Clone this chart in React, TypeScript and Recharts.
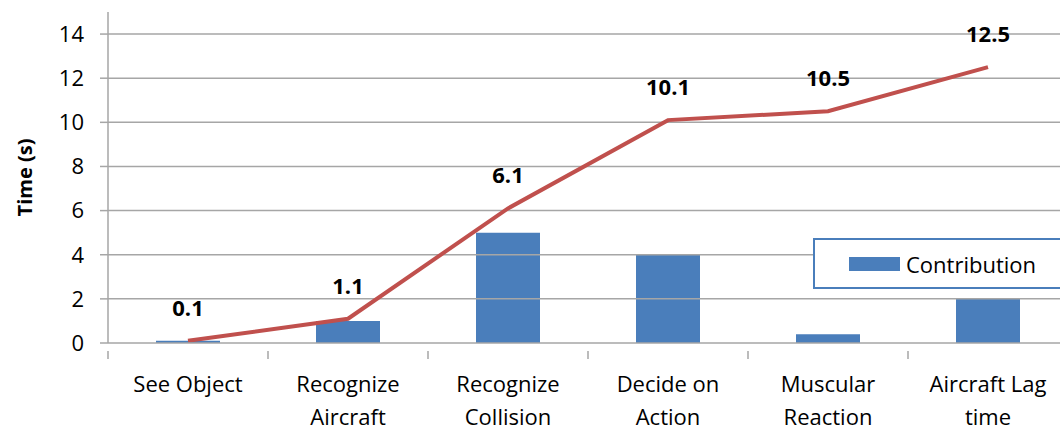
import React from 'react';
import {
  ComposedChart,
  Bar,
  Line,
  XAxis,
  YAxis,
  ReferenceLine,
  LabelList,
} from 'recharts';

const categories = [
  'See Object',
  'Recognize Aircraft',
  'Recognize Collision',
  'Decide on Action',
  'Muscular Reaction',
  'Aircraft Lag time',
];
const tickLines = [
  ['See Object'],
  ['Recognize', 'Aircraft'],
  ['Recognize', 'Collision'],
  ['Decide on', 'Action'],
  ['Muscular', 'Reaction'],
  ['Aircraft Lag', 'time'],
];
const contribution = [0.1, 1.0, 5.0, 4.0, 0.4, 2.0];
const cumulative = [0.1, 1.1, 6.1, 10.1, 10.5, 12.5];
const yTicks = [0, 2, 4, 6, 8, 10, 12, 14];

const data = categories.map((name, i) => ({
  name,
  contribution: contribution[i],
  cumulative: cumulative[i],
}));

const FONT = '"Open Sans", sans-serif';
const GRID = '#a6a6a6';
const BLUE = '#4a7ebb';
const RED = '#c0504d';

const XTick = (props: any) => {
  const { x, y, payload, index, visibleTicksCount } = props;
  const half = payload.offset || 0;
  const lines = tickLines[index] || [String(payload.value)];
  return (
    <g>
      <line x1={x - half} x2={x - half} y1={y} y2={y + 8} stroke={GRID} strokeWidth={1.5} />
      {index === visibleTicksCount - 1 && (
        <line x1={x + half} x2={x + half} y1={y} y2={y + 8} stroke={GRID} strokeWidth={1.5} />
      )}
      {lines.map((t: string, i: number) => (
        <text
          key={i}
          x={x}
          y={y + 41 + i * 33}
          textAnchor="middle"
          fontFamily={FONT}
          fontSize={22}
          fill="#000"
        >
          {t}
        </text>
      ))}
    </g>
  );
};

const PointLabel = (props: any) => {
  const { x, y, value } = props;
  return (
    <text
      x={x}
      y={y - 25}
      textAnchor="middle"
      fontFamily={FONT}
      fontWeight="bold"
      fontSize={22}
      fill="#000"
    >
      {value}
    </text>
  );
};

const YLabel = (props: any) => {
  const { viewBox } = props;
  const cy = viewBox.y + viewBox.height / 2;
  return (
    <text
      x={24}
      y={cy}
      transform={`rotate(-90, 24, ${cy})`}
      textAnchor="middle"
      dominantBaseline="central"
      fontFamily={FONT}
      fontWeight="bold"
      fontSize={20}
      fill="#000"
    >
      Time (s)
    </text>
  );
};

export default function App() {
  return (
    <div style={{ position: 'absolute', left: 0, top: 0, width: 1060, height: 429, overflow: 'hidden', background: '#fff' }}>
      <ComposedChart
        width={1068}
        height={429}
        data={data}
        margin={{ top: 12, right: 0, left: 8, bottom: 0 }}
      >
        <XAxis
          dataKey="name"
          height={86}
          axisLine={{ stroke: GRID, strokeWidth: 1.5 }}
          tickLine={false}
          tick={<XTick />}
          interval={0}
        />
        <YAxis
          domain={[0, 15]}
          ticks={yTicks}
          width={100}
          axisLine={{ stroke: GRID, strokeWidth: 1.5 }}
          tickLine={{ stroke: GRID, strokeWidth: 1.5 }}
          tickSize={8}
          tickMargin={16}
          tick={{ fontFamily: FONT, fontSize: 22, fill: '#000' }}
          label={<YLabel />}
        />
        {yTicks.slice(1).map((t) => (
          <ReferenceLine key={t} y={t} stroke={GRID} strokeWidth={1.5} />
        ))}
        <Bar dataKey="contribution" name="Contribution" fill={BLUE} barSize={64} isAnimationActive={false} />
        <Line
          dataKey="cumulative"
          stroke={RED}
          strokeWidth={4}
          dot={false}
          type="linear"
          isAnimationActive={false}
        >
          <LabelList dataKey="cumulative" content={<PointLabel />} />
        </Line>
      </ComposedChart>
      <div
        style={{
          position: 'absolute',
          left: 813,
          top: 238,
          width: 260,
          height: 51,
          border: `2px solid ${BLUE}`,
          background: '#fff',
          display: 'flex',
          alignItems: 'center',
          boxSizing: 'border-box',
          fontFamily: FONT,
          fontSize: 22,
        }}
      >
        <span style={{ display: 'inline-block', width: 51, height: 14, background: BLUE, marginLeft: 34, marginRight: 6 }} />
        <span>Contribution</span>
      </div>
    </div>
  );
}
